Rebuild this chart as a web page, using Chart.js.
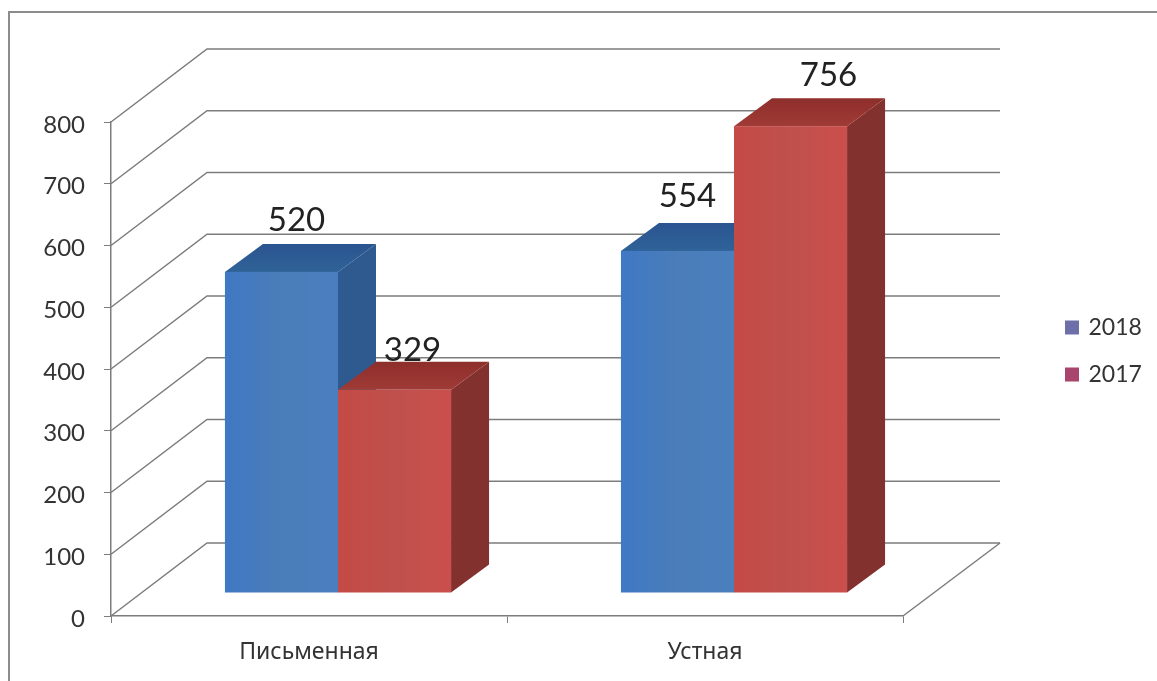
<!DOCTYPE html>
<html lang="ru">
<head>
  <meta charset="UTF-8">
  <title>Письменная и устная</title>
  <script src="https://cdn.jsdelivr.net/npm/chart.js"></script>
  <style>
    html, body {
      margin: 0;
      background: #fff;
      overflow: hidden;
    }
    #frame {
      position: absolute;
      left: 8px;
      top: 11px;
      right: 0;
      bottom: 0;
      border-top: 2px solid #8c8c8c;
      border-left: 2px solid #8c8c8c;
    }
    #wrap {
      position: absolute;
      left: 0;
      top: 0;
      width: 1157px;
      height: 681px;
    }
  </style>
</head>
<body>
<div id="frame"></div>
<div id="wrap"><canvas id="chart" width="1157" height="681"></canvas></div>

<script>
const categories = ["Письменная", "Устная"];
const seriesNames = ["2018", "2017"];
const values2018 = [520, 554];
const values2017 = [329, 756];

const legendColors = ["#6d70a8", "#a9446c"];
const faces = [
  { front: ["#3f78c4", "#4a7db9", "#4a7fbf"], top: ["#2b5490", "#2f6398"], side: "#2f5a90" },
  { front: ["#c44a45", "#bf504c", "#cb4f4c"], top: ["#8e2e2b", "#a03b37"], side: "#83312f" }
];
const gridColor = "#7c7c7c";
const depth = { wallX: 96, wallY: -73, barX: 38, barY: -28, shiftX: 29, shiftY: -23 };
// nudges so the value labels sit where the picture has them, [series][category]
const labelNudge = [
  [[15, -52], [10, -55]],
  [[18, -39], [38, -51]]
];

function polygon(ctx, pts, fill) {
  ctx.beginPath();
  pts.forEach((p, i) => i ? ctx.lineTo(p[0], p[1]) : ctx.moveTo(p[0], p[1]));
  ctx.closePath();
  ctx.fillStyle = fill;
  ctx.fill();
}

function drawWalls(chart) {
  const { ctx, scales: { x, y } } = chart;
  ctx.save();
  ctx.strokeStyle = gridColor;
  ctx.lineWidth = 1.5;
  y.ticks.forEach(t => {
    const py = y.getPixelForValue(t.value);
    ctx.beginPath();
    ctx.moveTo(x.left, py);
    ctx.lineTo(x.left + depth.wallX, py + depth.wallY);
    ctx.lineTo(x.right + depth.wallX + 1, py + depth.wallY);
    ctx.stroke();
  });
  const floor = y.getPixelForValue(0);
  ctx.beginPath();
  ctx.moveTo(x.right, floor);
  ctx.lineTo(x.right + depth.wallX + 1, floor + depth.wallY);
  ctx.stroke();
  ctx.restore();
}

function drawBar(ctx, bar, face) {
  const l = bar.x - bar.width / 2 + depth.shiftX;
  const r = bar.x + bar.width / 2 + depth.shiftX;
  const t = bar.y + depth.shiftY;
  const b = bar.base + depth.shiftY;
  const dx = depth.barX, dy = depth.barY;
  polygon(ctx, [[r, t], [r + dx, t + dy], [r + dx, b + dy], [r, b]], face.side);
  const tg = ctx.createLinearGradient(0, t + dy, 0, t);
  tg.addColorStop(0, face.top[0]);
  tg.addColorStop(1, face.top[1]);
  polygon(ctx, [[l, t], [l + dx, t + dy], [r + dx, t + dy], [r, t]], tg);
  const g = ctx.createLinearGradient(l, 0, r, 0);
  g.addColorStop(0, face.front[0]);
  g.addColorStop(0.5, face.front[1]);
  g.addColorStop(1, face.front[2]);
  ctx.fillStyle = g;
  ctx.fillRect(l, t, r - l, b - t);
}

const bars3d = {
  id: "bars3d",
  afterLayout(chart) {
    const lg = chart.legend;
    lg.left = 1043;
    lg.right = 1157;
    lg.top = 292;
    lg.bottom = 420;
    lg.width = lg.right - lg.left;
    lg.height = lg.bottom - lg.top;
  },
  beforeDatasetsDraw(chart) {
    const ctx = chart.ctx;
    drawWalls(chart);
    // left to right, so each bar overlaps the one before it
    categories.forEach((c, i) => {
      chart.data.datasets.forEach((ds, s) => {
        drawBar(ctx, chart.getDatasetMeta(s).data[i], faces[s]);
      });
    });
    ctx.save();
    ctx.font = "33px Lato";
    ctx.fillStyle = "#222";
    ctx.textAlign = "center";
    ctx.textBaseline = "middle";
    chart.data.datasets.forEach((ds, s) => {
      chart.getDatasetMeta(s).data.forEach((bar, i) => {
        const n = labelNudge[s][i];
        const top = bar.y + depth.shiftY;
        ctx.fillText(ds.data[i], bar.x + depth.shiftX + n[0], top + n[1]);
      });
    });
    ctx.restore();
    return false;
  }
};

new Chart(document.getElementById("chart"), {
  type: "bar",
  plugins: [bars3d],
  data: {
    labels: categories,
    datasets: [
      { label: seriesNames[0], data: values2018, backgroundColor: legendColors[0], borderColor: legendColors[0], borderWidth: 4 },
      { label: seriesNames[1], data: values2017, backgroundColor: legendColors[1], borderColor: legendColors[1], borderWidth: 4 }
    ]
  },
  options: {
    responsive: false,
    animation: false,
    layout: { padding: { top: 122, right: 254, left: 0, bottom: 0 } },
    datasets: { bar: { categoryPercentage: 0.571, barPercentage: 1 } },
    plugins: {
      tooltip: { enabled: false },
      legend: {
        position: "chartArea",
        align: "start",
        labels: {
          boxWidth: 10,
          boxHeight: 10,
          padding: 24,
          color: "#333",
          font: { family: "Lato", size: 23 }
        }
      }
    },
    scales: {
      x: {
        afterFit: s => { s.height = 65; },
        grid: { drawOnChartArea: false, color: gridColor, tickLength: 7, offset: true },
        border: { color: gridColor, width: 1.5 },
        ticks: { color: "#333", padding: 16, maxRotation: 0, font: { family: "Noto Sans", size: 23 } }
      },
      y: {
        min: 0,
        max: 800,
        afterFit: s => { s.width = 111; },
        grid: { drawOnChartArea: false, color: gridColor, tickLength: 7 },
        border: { color: gridColor, width: 1.5 },
        ticks: { stepSize: 100, color: "#333", padding: 19, labelOffset: 3, font: { family: "Lato", size: 24 } }
      }
    }
  }
});
</script>
</body>
</html>
